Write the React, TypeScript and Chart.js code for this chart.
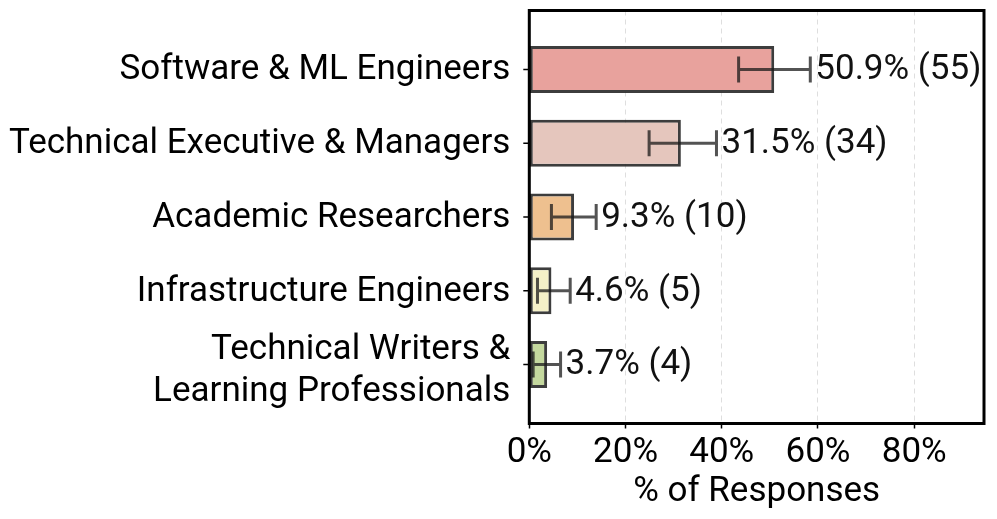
import React, { useEffect, useRef } from "react";
import { Chart, registerables } from "chart.js";

Chart.register(...registerables);

const categories: string[][] = [
  ["Software & ML Engineers"],
  ["Technical Executive & Managers"],
  ["Academic Researchers"],
  ["Infrastructure Engineers"],
  ["Technical Writers &", "Learning Professionals"],
];
const percents = [50.9, 31.5, 9.3, 4.6, 3.7];
const counts = [55, 34, 10, 5, 4];
const errLow = [43.5, 24.9, 4.6, 1.7, 0.8];
const errHigh = [58.4, 38.9, 13.9, 8.5, 6.5];
const barColors = [
  "rgb(232,162,157)",
  "rgb(229,198,189)",
  "rgb(238,192,143)",
  "rgb(245,241,200)",
  "rgb(196,216,158)",
];
const xTicks = [0, 20, 40, 60, 80];

const FONT = "Roboto";
const FS = 35;

export default function App() {
  const ref = useRef<HTMLCanvasElement | null>(null);

  useEffect(() => {
    document.body.style.margin = "0";
    const canvas = ref.current;
    if (!canvas) return;

    const overlay = {
      id: "overlay",
      afterDatasetsDraw(chart: any) {
        const { ctx, chartArea } = chart;
        const xs = chart.scales.x;
        const ys = chart.scales.y;
        ctx.save();
        // y tick marks at category centres
        ctx.strokeStyle = "#000";
        ctx.lineWidth = 1.5;
        ctx.beginPath();
        categories.forEach((_, i) => {
          const y = ys.getPixelForValue(i);
          ctx.moveTo(chartArea.left - 6, y);
          ctx.lineTo(chartArea.left, y);
        });
        ctx.stroke();
        percents.forEach((v, i) => {
          const y = ys.getPixelForValue(i);
          const x1 = xs.getPixelForValue(errLow[i]);
          const x2 = xs.getPixelForValue(errHigh[i]);
          ctx.strokeStyle = "rgba(25,25,25,0.75)";
          ctx.lineWidth = 3;
          ctx.beginPath();
          ctx.moveTo(x1, y);
          ctx.lineTo(x2, y);
          ctx.moveTo(x1, y - 13);
          ctx.lineTo(x1, y + 13);
          ctx.moveTo(x2, y - 13);
          ctx.lineTo(x2, y + 13);
          ctx.stroke();
          ctx.fillStyle = "#111";
          ctx.font = `${FS}px ${FONT}`;
          ctx.textAlign = "left";
          ctx.textBaseline = "middle";
          ctx.fillText(`${v.toFixed(1)}% (${counts[i]})`, x2 + 5, y + 1);
        });
        ctx.restore();
      },
      afterDraw(chart: any) {
        const { ctx, chartArea } = chart;
        ctx.save();
        ctx.strokeStyle = "#000";
        ctx.lineWidth = 3;
        ctx.strokeRect(
          chartArea.left,
          chartArea.top,
          chartArea.right - chartArea.left,
          chartArea.bottom - chartArea.top
        );
        ctx.restore();
      },
    };

    const chart = new Chart(canvas, {
      type: "bar",
      data: {
        datasets: [
          {
            data: percents.map((v, i) => ({ x: v, y: i })),
            backgroundColor: barColors,
            borderColor: "rgba(40,40,40,0.9)",
            borderWidth: 3,
            borderSkipped: false,
            barPercentage: 0.64,
            categoryPercentage: 1,
          },
        ],
      },
      options: {
        indexAxis: "y",
        animation: false,
        responsive: false,
        maintainAspectRatio: false,
        layout: { padding: { top: 10.5, right: 13, left: 0, bottom: 0 } },
        plugins: {
          legend: { display: false },
          tooltip: { enabled: false },
        },
        scales: {
          x: {
            type: "linear",
            min: 0,
            max: 94.5,
            offset: false,
            afterBuildTicks: (s: any) => {
              s.ticks = xTicks.map((v) => ({ value: v }));
            },
            afterFit: (s: any) => {
              s.height = 95.5;
              s.paddingLeft = 0;
              s.paddingRight = 0;
            },
            grid: {
              offset: false,
              color: "rgba(0,0,0,0.13)",
              lineWidth: 1,
              tickLength: 5,
              tickColor: "#000",
              tickWidth: 1.5,
            },
            border: { display: false, dash: [5, 4] },
            ticks: {
              color: "#000",
              padding: 4,
              autoSkip: false,
              maxRotation: 0,
              font: { family: FONT, size: FS },
              callback: (v: any) => `${v}%`,
            },
            title: {
              display: true,
              text: "% of Responses",
              color: "#000",
              font: { family: FONT, size: FS },
              padding: { top: 0, bottom: 6 },
            },
          },
          y: {
            type: "linear",
            min: -0.8,
            max: 4.8,
            reverse: true,
            offset: false,
            afterBuildTicks: (s: any) => {
              // multi-line label sits slightly lower, as in the reference
              s.ticks = categories.map((c, i) => ({
                value: i + (c.length > 1 ? 0.08 : 0),
              }));
            },
            afterFit: (s: any) => {
              s.width = 529.3;
              s.paddingTop = 0;
              s.paddingBottom = 0;
            },
            grid: {
              offset: false,
              drawOnChartArea: false,
              drawTicks: false,
            },
            border: { display: false },
            ticks: {
              color: "#000",
              padding: 19,
              autoSkip: false,
              labelOffset: 1,
              font: { family: FONT, size: FS, lineHeight: 1.19 },
              callback: (_v: any, i: number) => categories[i],
            },
          },
        },
      },
      plugins: [overlay],
    });

    return () => chart.destroy();
  }, []);

  return (
    <div style={{ width: 997, height: 519 }}>
      <canvas ref={ref} width={997} height={519} style={{ display: "block" }} />
    </div>
  );
}
